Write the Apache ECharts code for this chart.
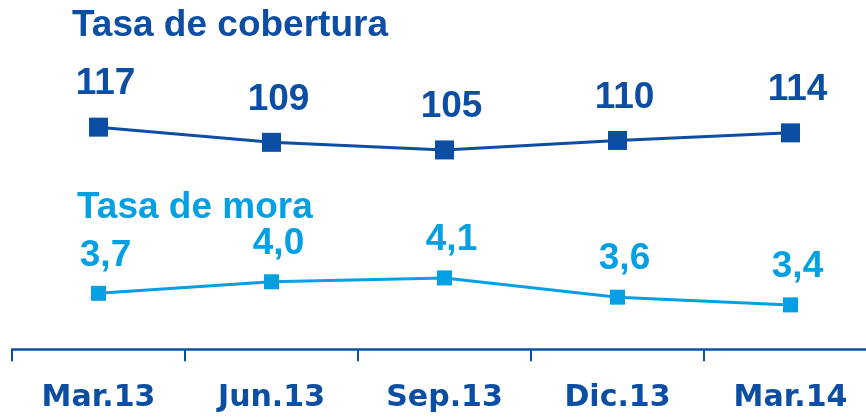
<!DOCTYPE html>
<html>
<head>
<meta charset="utf-8">
<script src="https://cdn.jsdelivr.net/npm/echarts@6/dist/echarts.min.js"></script>
<style>
    html, body { margin: 0; padding: 0; background: #fff; }
    #chart { width: 866px; height: 420px; }
</style>
</head>
<body>
<div id="chart"></div>
<script>
// periods and the two rates
var categories = ["Mar.13", "Jun.13", "Sep.13", "Dic.13", "Mar.14"];
var cobertura = [117, 109, 105, 110, 114];
var mora = [3.7, 4.0, 4.1, 3.6, 3.4];

var darkBlue = "#0b4ea4";
var lightBlue = "#05a0e3";

var chart = echarts.init(document.getElementById("chart"));

var option = {
    animation: false,
    title: [
        {
            text: "Tasa de cobertura",
            left: 72,
            top: 7,
            padding: 0,
            textStyle: { color: darkBlue, fontFamily: "Liberation Sans", fontWeight: "bold", fontSize: 37 }
        },
        {
            text: "Tasa de mora",
            left: 77,
            top: 189,
            padding: 0,
            textStyle: { color: lightBlue, fontFamily: "Liberation Sans", fontWeight: "bold", fontSize: 37 }
        }
    ],
    grid: { left: 12, top: 0, width: 865, height: 353, outerBoundsMode: "none", containLabel: false },
    xAxis: {
        type: "category",
        data: categories,
        boundaryGap: true,
        axisLine: { lineStyle: { color: darkBlue, width: 2.5 } },
        axisTick: { show: true, length: 12, lineStyle: { color: darkBlue, width: 2 } },
        axisLabel: {
            margin: 30,
            color: darkBlue,
            fontFamily: "DejaVu Sans",
            fontWeight: "bold",
            fontSize: 30
        }
    },
    yAxis: [
        { type: "value", min: -2, max: 184, show: false, splitLine: { show: false } },
        { type: "value", min: 2.15, max: 11.32, show: false, splitLine: { show: false } }
    ],
    series: [
        {
            name: "Tasa de cobertura",
            type: "line",
            yAxisIndex: 0,
            data: cobertura,
            symbol: "rect",
            symbolSize: 19,
            itemStyle: { color: darkBlue },
            lineStyle: { color: darkBlue, width: 3 },
            label: {
                show: true,
                position: "top",
                distance: 15,
                offset: [7, 0],
                color: darkBlue,
                fontFamily: "Liberation Sans",
                fontWeight: "bold",
                fontSize: 37
            }
        },
        {
            name: "Tasa de mora",
            type: "line",
            yAxisIndex: 1,
            data: mora,
            symbol: "rect",
            symbolSize: 15,
            itemStyle: { color: lightBlue },
            lineStyle: { color: lightBlue, width: 3 },
            label: {
                show: true,
                position: "top",
                distance: 12,
                offset: [7, 0],
                color: lightBlue,
                fontFamily: "Liberation Sans",
                fontWeight: "bold",
                fontSize: 37,
                formatter: function (p) {
                    return p.value.toFixed(1).replace(".", ",");
                }
            }
        }
    ]
};

chart.setOption(option);
window.addEventListener("resize", chart.resize);
</script>
</body>
</html>
